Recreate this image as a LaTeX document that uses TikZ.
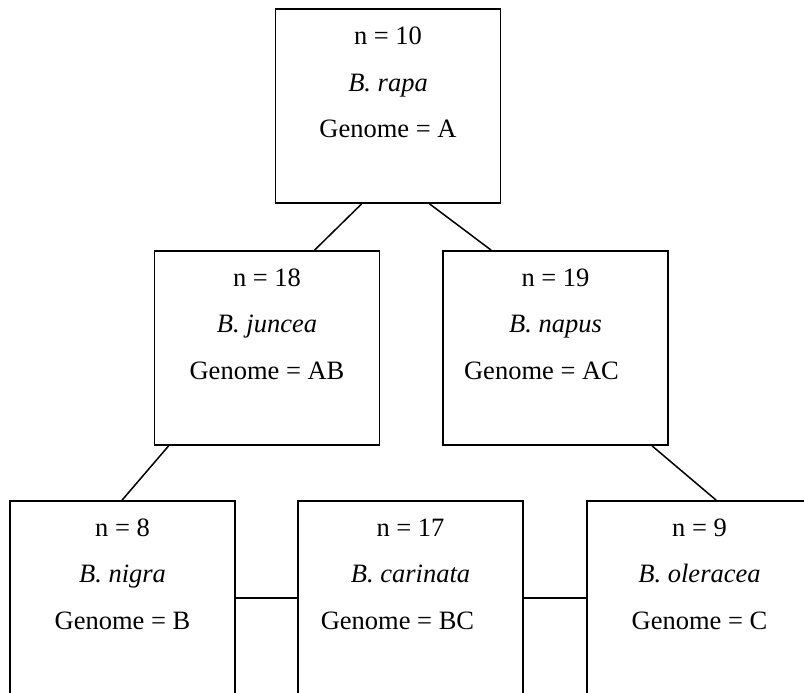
\documentclass[tikz,border=0pt]{standalone}
\usepackage{fontspec}
\setmainfont{Liberation Serif}
\usetikzlibrary{calc}
\begin{document}
\begin{tikzpicture}[x=1pt,y=-1pt,
  box/.style={draw=black,line width=1.8pt,minimum width=225pt,minimum height=194pt,inner sep=0pt},
  txt/.style={anchor=base,inner sep=0pt,font=\fontsize{26.5}{30}\selectfont},
  conn/.style={draw=black,line width=1.5pt}]
\useasboundingbox (0,0) rectangle (804,693);
\fill[white] (0,0) rectangle (804,693);
% boxes
\node[box] (t)  at (388,106) {};
\node[box] (m1) at (267,348) {};
\node[box] (m2) at (555.5,348) {};
\node[box] (b1) at (122.5,598) {};
\node[box] (b2) at (410.5,598) {};
\node[box] (b3) at (699.5,598) {};
% texts
\node[txt] (t1) at ($(t.north)+(0,36)$) {n = 10};
\node[txt] (t2) at ($(t.north)+(0,83)$) {\textit{B. rapa}};
\node[txt] (t3) at ($(t.north)+(0,129)$) {Genome = A};
\node[txt] (m11) at ($(m1.north)+(0,36)$) {n = 18};
\node[txt] (m12) at ($(m1.north)+(0,82)$) {\textit{B. juncea}};
\node[txt] (m13) at ($(m1.north)+(0,129)$) {Genome = AB};
\node[txt] (m21) at ($(m2.north)+(0,36)$) {n = 19};
\node[txt] (m22) at ($(m2.north)+(0,82)$) {\textit{B. napus}};
\node[txt] (m23) at ($(m2.north)+(-14,129)$) {Genome = AC};
\node[txt] (b11) at ($(b1.north)+(0,36)$) {n = 8};
\node[txt] (b12) at ($(b1.north)+(0,82)$) {\textit{B. nigra}};
\node[txt] (b13) at ($(b1.north)+(0,129)$) {Genome = B};
\node[txt] (b21) at ($(b2.north)+(0,36)$) {n = 17};
\node[txt] (b22) at ($(b2.north)+(0,82)$) {\textit{B. carinata}};
\node[txt] (b23) at ($(b2.north)+(-13,129)$) {Genome = BC};
\node[txt] (b31) at ($(b3.north)+(0,36)$) {n = 9};
\node[txt] (b32) at ($(b3.north)+(0,82)$) {\textit{B. oleracea}};
\node[txt] (b33) at ($(b3.north)+(0,129)$) {Genome = C};
% connectors
\draw[conn] ($(t.south west)+(87,0)$) -- ($(m1.north west)+(161,0)$);
\draw[conn] ($(t.south west)+(155,0)$) -- ($(m2.north west)+(49,0)$);
\draw[conn] ($(m1.south west)+(15,0)$) -- ($(b1.north west)+(113,0)$);
\draw[conn] ($(m2.south west)+(210,0)$) -- ($(b3.north west)+(130,0)$);
\draw[conn] (b1.east) -- (b2.west);
\draw[conn] (b2.east) -- (b3.west);
\end{tikzpicture}
\end{document}
